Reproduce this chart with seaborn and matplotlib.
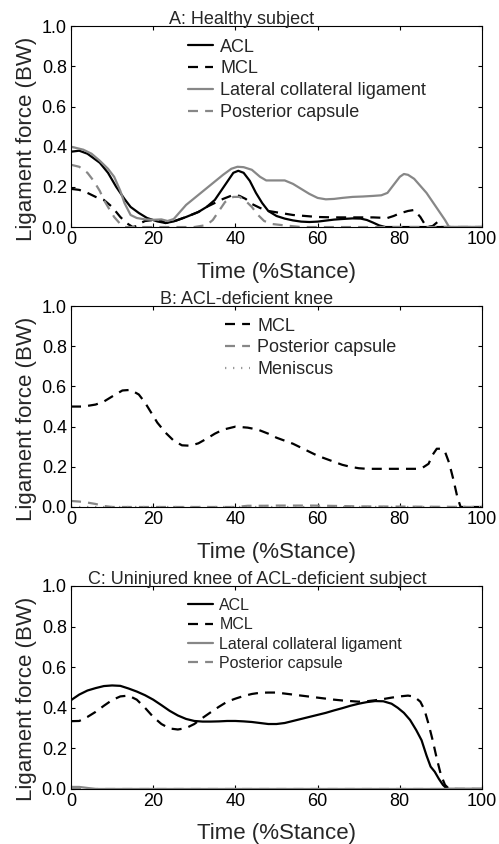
import matplotlib
matplotlib.use('Agg')
import matplotlib.pyplot as plt
import seaborn as sns

# Panel A: healthy subject
a_acl_x = [0, 2, 4, 7, 9, 11, 13, 14.5, 16.5, 18.5, 21, 23, 25, 28, 31, 33, 35, 36.5, 38, 39.5,
           40.7, 42, 43.5, 45, 46.5, 48, 50, 52, 54, 56, 58, 60, 62, 64, 66, 68.5, 70.5, 72, 73.5,
           75, 76.5, 80, 100]
a_acl_y = [0.375, 0.38, 0.365, 0.32, 0.27, 0.2, 0.14, 0.1, 0.07, 0.045, 0.028, 0.02, 0.028, 0.05,
           0.075, 0.1, 0.135, 0.18, 0.225, 0.27, 0.28, 0.27, 0.23, 0.17, 0.12, 0.08, 0.055, 0.042,
           0.033, 0.027, 0.025, 0.027, 0.032, 0.037, 0.04, 0.043, 0.042, 0.035, 0.022, 0.008, 0.0,
           0.0, 0.0]
a_mcl_x = [0, 2, 4, 6, 8, 10, 12, 13.5, 15, 16, 17, 18, 20, 22, 23, 25, 28, 31, 33, 35, 37, 39.5,
           41, 42.5, 44, 46, 48, 51, 54, 57, 60, 64, 68.5, 73.5, 77, 78.5, 80, 82, 83.5, 85, 86.5,
           88, 89.3, 90, 100]
a_mcl_y = [0.19, 0.185, 0.17, 0.15, 0.135, 0.1, 0.05, 0.02, 0.0, 0.005, 0.02, 0.03, 0.035, 0.032,
           0.02, 0.028, 0.05, 0.075, 0.1, 0.12, 0.14, 0.16, 0.155, 0.14, 0.115, 0.095, 0.08, 0.07,
           0.06, 0.055, 0.05, 0.048, 0.048, 0.048, 0.045, 0.055, 0.068, 0.08, 0.085, 0.05, 0.0,
           0.005, 0.027, 0.0, 0.0]
a_lcl_x = [0, 3, 5, 7, 9, 10.5, 12, 13, 14.5, 16, 18, 20, 22, 23.5, 25, 28, 31, 34, 37, 39, 40.5,
           42, 44, 46, 47.5, 50, 52, 54, 56, 58, 60, 62, 64, 66, 68.5, 71, 73.5, 75.5, 77, 78.5,
           80, 81, 82, 83.5, 85, 86.5, 88, 89.5, 91, 92, 100]
a_lcl_y = [0.40, 0.385, 0.365, 0.33, 0.29, 0.25, 0.18, 0.12, 0.06, 0.045, 0.038, 0.036, 0.038,
           0.03, 0.04, 0.11, 0.16, 0.21, 0.26, 0.29, 0.30, 0.298, 0.285, 0.25, 0.232, 0.232, 0.232,
           0.215, 0.19, 0.165, 0.145, 0.138, 0.14, 0.145, 0.15, 0.152, 0.155, 0.158, 0.17, 0.21,
           0.25, 0.264, 0.26, 0.24, 0.205, 0.17, 0.125, 0.08, 0.035, 0.0, 0.0]
a_pc_x = [0, 2, 4, 5.5, 7, 8, 9, 10.5, 12, 13, 20, 30, 33, 34.5, 36, 37.5, 39.5, 41, 42.5, 44,
          45.5, 47, 49, 52, 56, 100]
a_pc_y = [0.31, 0.30, 0.27, 0.23, 0.18, 0.135, 0.1, 0.05, 0.015, 0.0, 0.0, 0.0, 0.01, 0.035, 0.08,
          0.125, 0.15, 0.15, 0.13, 0.1, 0.06, 0.03, 0.015, 0.008, 0.0, 0.0]

# Panel B: ACL-deficient knee
b_mcl_x = [0, 3, 6, 8, 10, 12.5, 14.5, 16.5, 18, 19.5, 21, 23, 25, 27, 29, 31, 33, 35, 37, 40, 43,
           45.5, 48, 50, 52, 54, 56, 58, 60, 62, 64, 66, 68, 70, 72, 76, 80, 84, 85.5, 87, 88, 89,
           90, 91, 92, 93, 94, 94.8, 100]
b_mcl_y = [0.50, 0.50, 0.51, 0.525, 0.55, 0.58, 0.583, 0.56, 0.52, 0.47, 0.42, 0.37, 0.33, 0.307,
           0.305, 0.317, 0.34, 0.365, 0.385, 0.40, 0.395, 0.385, 0.365, 0.345, 0.33, 0.315, 0.295,
           0.275, 0.255, 0.24, 0.225, 0.21, 0.2, 0.193, 0.19, 0.19, 0.19, 0.19, 0.195, 0.215, 0.26,
           0.29, 0.29, 0.275, 0.22, 0.14, 0.05, 0.0, 0.0]
b_pc_x = [0, 2, 4, 6, 8, 10, 40, 43, 47, 50, 53, 56, 59, 62, 65, 70, 100]
b_pc_y = [0.03, 0.027, 0.022, 0.015, 0.005, 0.0, 0.0, 0.006, 0.006, 0.007, 0.007, 0.007, 0.007,
          0.006, 0.005, 0.003, 0.0]
b_men_x = [0, 100]
b_men_y = [0.0, 0.0]

# Panel C: uninjured knee of ACL-deficient subject
c_acl_x = [0, 2, 4, 6, 8, 10, 12, 14, 16, 18, 20, 22, 24, 26, 28, 30, 32, 34, 36, 38, 40, 42, 44,
           46, 48, 50, 52, 54, 56, 58, 60, 62, 64, 66, 68, 70, 72, 74, 76, 78, 79.5, 81, 82.5, 84,
           85.3, 86.5, 87.5, 88.5, 89.5, 90.5, 91.5, 100]
c_acl_y = [0.4375, 0.465, 0.485, 0.497, 0.507, 0.51, 0.508, 0.495, 0.48, 0.462, 0.44, 0.413, 0.385,
           0.362, 0.345, 0.335, 0.332, 0.332, 0.333, 0.335, 0.335, 0.333, 0.33, 0.325, 0.32, 0.32,
           0.325, 0.335, 0.345, 0.355, 0.365, 0.375, 0.387, 0.398, 0.41, 0.42, 0.428, 0.433,
           0.432, 0.42, 0.40, 0.375, 0.34, 0.29, 0.24, 0.165, 0.11, 0.085, 0.05, 0.02, 0.0, 0.0]
c_mcl_x = [0, 2, 4, 6, 8, 10, 12, 14, 16, 18, 20, 22, 24, 26, 28, 30, 32, 34, 36, 38, 40, 42, 44,
           46, 48, 50, 52, 54, 56, 58, 60, 62, 64, 66, 68, 70, 72, 74, 76, 78, 80, 82, 83.5, 85,
           86, 87, 88, 89, 90, 91, 92, 100]
c_mcl_y = [0.334, 0.335, 0.355, 0.38, 0.41, 0.438, 0.456, 0.46, 0.44, 0.40, 0.355, 0.32, 0.298,
           0.293, 0.3, 0.32, 0.35, 0.378, 0.405, 0.43, 0.445, 0.458, 0.468, 0.474, 0.475, 0.475,
           0.47, 0.465, 0.46, 0.455, 0.45, 0.445, 0.44, 0.436, 0.433, 0.43, 0.432, 0.437, 0.443,
           0.45, 0.456, 0.46, 0.455, 0.43, 0.39, 0.32, 0.24, 0.15, 0.07, 0.02, 0.0, 0.0]
c_lcl_x = [0, 2, 4, 6, 100]
c_lcl_y = [0.01, 0.01, 0.005, 0.0, 0.0]
c_pc_x = [0, 100]
c_pc_y = [0.0, 0.0]

x_ticks = [0, 20, 40, 60, 80, 100]
y_ticks = [0.0, 0.2, 0.4, 0.6, 0.8, 1.0]

sns.set_theme(style='ticks')
plt.rcParams['font.family'] = ['Liberation Sans', 'DejaVu Sans']

GRAY = '#878787'
LW = 1.6
DASH = (0, (4.5, 3.2))
DOT = (0, (0.6, 3.0))

fig = plt.figure(figsize=(4.99, 8.44), dpi=100)


def draw_panel(rect, title, title_x, series, leg_anchor, leg_size, leg_hlen,
               xlabel_y, ylabel_y):
    ax = fig.add_axes(rect)
    for x, y, label, color, ls in series:
        sns.lineplot(x=x, y=y, ax=ax, label=label, color=color, lw=LW, linestyle=ls)
    ax.set_xlim(0, 100)
    ax.set_ylim(0, 1.0)
    ax.set_xticks(x_ticks)
    ax.set_yticks(y_ticks)
    ax.set_yticklabels([f'{t:.1f}' for t in y_ticks])
    ax.tick_params(direction='in', length=3, width=0.8, top=True, right=True,
                   labelsize=13, pad=3, colors='black')
    for sp in ax.spines.values():
        sp.set_visible(True)
        sp.set_linewidth(0.8)
        sp.set_color('black')
    ax.set_title(title, fontsize=13, x=title_x, pad=1.5)
    ax.set_xlabel('Time (%Stance)', fontsize=16)
    ax.set_ylabel('Ligament force (BW)', fontsize=16)
    ax.xaxis.set_label_coords(0.5, xlabel_y)
    ax.yaxis.set_label_coords(-0.083, ylabel_y)
    ax.legend(loc='upper left', bbox_to_anchor=leg_anchor, frameon=False, fontsize=leg_size,
              borderpad=0, borderaxespad=0, labelspacing=0.27, handlelength=leg_hlen,
              handletextpad=0.4)
    return ax


draw_panel([0.1423, 0.731, 0.8236, 0.238], 'A: Healthy subject', 0.416,
           [(a_acl_x, a_acl_y, 'ACL', 'black', '-'),
            (a_mcl_x, a_mcl_y, 'MCL', 'black', DASH),
            (a_lcl_x, a_lcl_y, 'Lateral collateral ligament', GRAY, '-'),
            (a_pc_x, a_pc_y, 'Posterior capsule', GRAY, DASH)],
           (0.285, 0.938), 13, 1.39, -0.174, 0.438)

draw_panel([0.1423, 0.3993, 0.8236, 0.238], 'B: ACL-deficient knee', 0.428,
           [(b_mcl_x, b_mcl_y, 'MCL', 'black', DASH),
            (b_pc_x, b_pc_y, 'Posterior capsule', GRAY, DASH),
            (b_men_x, b_men_y, 'Meniscus', '#9a9a9a', DOT)],
           (0.375, 0.943), 13, 1.39, -0.174, 0.438)

draw_panel([0.1423, 0.0652, 0.8236, 0.2405], 'C: Uninjured knee of ACL-deficient subject', 0.453,
           [(c_acl_x, c_acl_y, 'ACL', 'black', '-'),
            (c_mcl_x, c_mcl_y, 'MCL', 'black', DASH),
            (c_lcl_x, c_lcl_y, 'Lateral collateral ligament', GRAY, '-'),
            (c_pc_x, c_pc_y, 'Posterior capsule', GRAY, DASH)],
           (0.285, 0.941), 11.5, 1.56, -0.167, 0.443)

fig.savefig('out.png', dpi=100)
